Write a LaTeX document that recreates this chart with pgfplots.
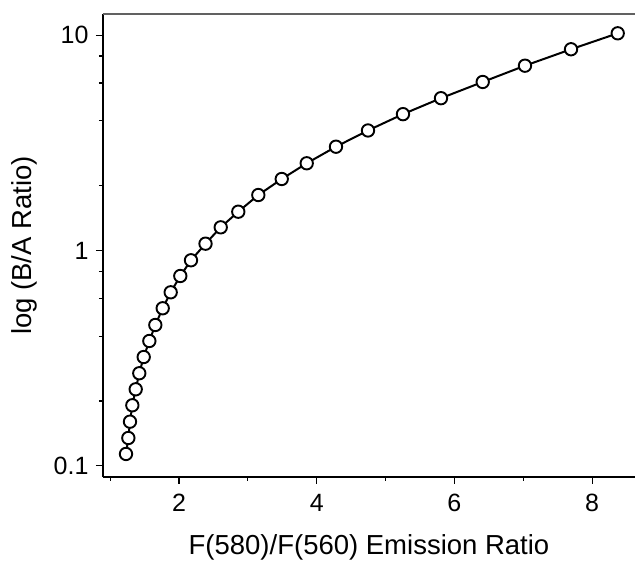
\documentclass[border=0pt]{standalone}
\usepackage{fontspec}
\setmainfont{Liberation Sans}
\usepackage{pgfplots}
\pgfplotsset{compat=1.18}
\begin{document}
\begin{tikzpicture}
\begin{axis}[name=ax, scale only axis, width=532pt, height=463pt,
  ymode=log, xmin=0.896, xmax=8.623, ymin=0.0887, ymax=12.54,
  axis x line*=bottom, axis y line*=left,
  every outer x axis line/.append style={-},
  every outer y axis line/.append style={-},
  axis line style={line width=1.2pt, black, -},
  xtick={2,4,6,8}, minor xtick={1,3,5,7},
  ytick={0.1,1,10}, yticklabels={0.1,1,10},
  minor ytick={0.2,0.4,0.6,0.8,2,4,6,8},
  tick align=outside, major tick length=7pt, minor tick length=4pt,
  every tick/.style={line width=1.2pt, black},
  /pgf/number format/assume math mode=true,
  ticklabel style={font=\fontsize{25}{29}\selectfont},
  xticklabel style={yshift=-7pt},
  yticklabel style={xshift=-4pt},
  xlabel={F(580)/F(560) Emission Ratio},
  ylabel={log (B/A Ratio)},
  every axis x label/.style={at={(axis description cs:0.5,-0.168)}, anchor=base, font=\fontsize{27.5}{32}\selectfont},
  every axis y label/.style={at={(axis description cs:-0.1485,0.5)}, anchor=center, rotate=90, font=\fontsize{27.5}{32}\selectfont},
  clip=false,
]
\addplot[black, line width=2pt, mark=*, mark size=6.2pt,
  mark options={fill=white, draw=black, line width=1.9pt}] coordinates {
(1.230,0.1135) (1.264,0.1346) (1.288,0.1603) (1.322,0.1910) (1.371,0.2266)
(1.423,0.2690) (1.487,0.3200) (1.569,0.3799) (1.656,0.4508) (1.763,0.539)
(1.879,0.6394) (2.019,0.7613) (2.174,0.9005) (2.385,1.0754) (2.606,1.281)
(2.861,1.514) (3.152,1.810) (3.492,2.148) (3.855,2.541) (4.280,3.034)
(4.745,3.609) (5.253,4.297) (5.805,5.097) (6.411,6.062) (7.025,7.216)
(7.694,8.601) (8.372,10.2)
};
\draw[black!62, line width=1.4pt] (rel axis cs:0,1) -- (rel axis cs:1,1);
\end{axis}
\pgfresetboundingbox
\path[use as bounding box] ([xshift=-103pt,yshift=-83pt]ax.south west) rectangle ([yshift=14pt]ax.north east);
\end{tikzpicture}
\end{document}
